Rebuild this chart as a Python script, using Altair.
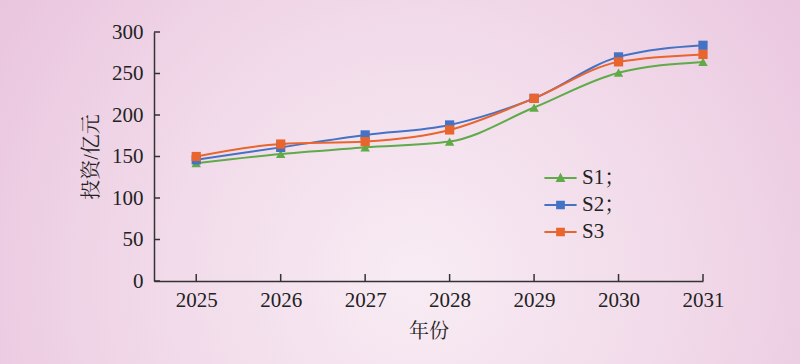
import altair as alt
import pandas as pd

years = [2025, 2026, 2027, 2028, 2029, 2030, 2031]
s1 = [142, 153, 161, 168, 209, 251, 264]
s2 = [146, 161, 176, 188, 220, 270, 284]
s3 = [150, 165, 168, 182, 220, 264, 273]
series_names = ["S1；", "S2；", "S3"]
series_colors = ["#5eab47", "#4472c4", "#e8652d"]
y_ticks = [0, 50, 100, 150, 200, 250, 300]

rows = []
for name, vals in zip(series_names, [s1, s2, s3]):
    for yr, v in zip(years, vals):
        rows.append({"year": yr, "value": v, "series": name})
df = pd.DataFrame(rows)

W, H = 549, 249
PL, PT = 154, 32
FONT = "Liberation Serif, Times New Roman, Noto Serif CJK SC, Noto Sans CJK SC"

bg = alt.Chart(pd.DataFrame({"a": [0]})).mark_rect(
    fill=alt.RadialGradient(
        gradient="radial",
        x1=0.52, y1=0.62, r1=0.0,
        x2=0.52, y2=0.62, r2=0.75,
        stops=[
            alt.GradientStop(offset=0, color="#f8ecf4"),
            alt.GradientStop(offset=0.45, color="#f1d9e9"),
            alt.GradientStop(offset=1, color="#e6bcd9"),
        ],
    )
).encode(
    x=alt.value(-PL), x2=alt.value(800 - PL),
    y=alt.value(-PT), y2=alt.value(364 - PT),
)

# legend glyphs: line segment + marker (unit box, scaled by symbol size)
LINE = "M-1.4,-0.09L1.4,-0.09L1.4,0.09L-1.4,0.09Z"
TRI = LINE + "M0,-0.45L0.43,0.35L-0.43,0.35Z"
SQ = LINE + "M-0.38,-0.38L0.38,-0.38L0.38,0.38L-0.38,0.38Z"

xscale = alt.Scale(domain=[2024.5, 2031], nice=False, zero=False)
yscale = alt.Scale(domain=[0, 300], nice=False)
cscale = alt.Scale(domain=series_names, range=series_colors)

leg = alt.Legend(
    title=None, orient="none", legendX=395, legendY=134.5,
    labelFont=FONT, labelFontSize=21, labelColor="#222",
    symbolSize=529, symbolStrokeWidth=0, rowPadding=5, labelOffset=10,
    symbolOpacity=1,
    symbolType=alt.ExprRef(expr="datum.value === '" + series_names[0] + "' ? '" + TRI + "' : '" + SQ + "'"),
    symbolFillColor=alt.ExprRef(expr="scale('color', datum.value)"),
)

X = alt.X("year:Q", scale=xscale,
          axis=alt.Axis(values=years, format="d", title="年份", ticks=False, zindex=1,
                        labelFont=FONT, labelFontSize=21, labelColor="#222", labelPadding=8,
                        titleFont=FONT, titleFontSize=20, titleColor="#222", titleFontWeight="normal",
                        titlePadding=11, domainColor="#333", domainWidth=1.5, grid=False, labelFlush=False))
Y = alt.Y("value:Q", scale=yscale,
          axis=alt.Axis(values=y_ticks, title="投资/亿元", ticks=False, zindex=1,
                        labelFont=FONT, labelFontSize=21, labelColor="#222", labelPadding=11,
                        titleFont=FONT, titleFontSize=20, titleColor="#222", titleFontWeight="normal",
                        titlePadding=10, domainColor="#333", domainWidth=1.5, grid=False))

lines = alt.Chart(df).mark_line(interpolate="monotone", strokeWidth=2).encode(
    x=X, y=Y,
    color=alt.Color("series:N", scale=cscale, legend=leg),
    detail="series:N",
)

pts_tri = alt.Chart(df).transform_filter(alt.datum.series == series_names[0]).mark_point(
    filled=True, size=90, opacity=1, shape="triangle-up"
).encode(
    x=alt.X("year:Q", scale=xscale), y=alt.Y("value:Q", scale=yscale),
    color=alt.Color("series:N", scale=cscale, legend=None),
)
pts_sq = alt.Chart(df).transform_filter(alt.datum.series != series_names[0]).mark_point(
    filled=True, size=85, opacity=1, shape="square"
).encode(
    x=alt.X("year:Q", scale=xscale), y=alt.Y("value:Q", scale=yscale),
    color=alt.Color("series:N", scale=cscale, legend=None),
)

ytick_df = pd.DataFrame({"v": y_ticks})
yticks = alt.Chart(ytick_df).mark_rule(color="#333", strokeWidth=1.5).encode(
    y=alt.Y("v:Q", scale=yscale), x=alt.value(0), x2=alt.value(6)
)
xtick_df = pd.DataFrame({"yr": years})
xticks = alt.Chart(xtick_df).mark_rule(color="#333", strokeWidth=1.5).encode(
    x=alt.X("yr:Q", scale=xscale), y=alt.value(H - 7), y2=alt.value(H)
)

chart = alt.layer(bg, lines, pts_tri, pts_sq, yticks, xticks).properties(
    width=W, height=H,
    autosize=alt.AutoSizeParams(type="none"),
    padding={"left": PL, "top": PT, "right": 800 - PL - W, "bottom": 364 - PT - H},
    background="#e8c0dc",
).configure_view(stroke=None)

chart.save("out.html", embed_options={"renderer": "svg", "actions": False})
